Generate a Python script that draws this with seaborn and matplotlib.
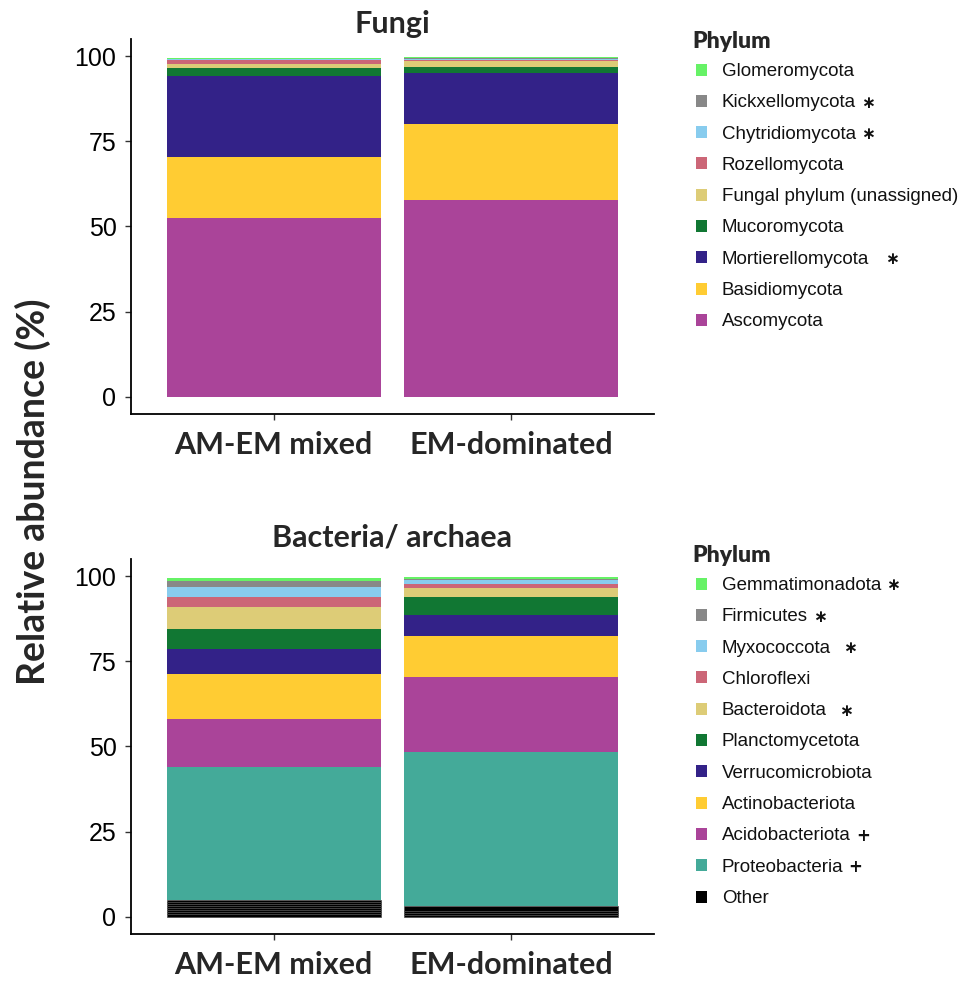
import matplotlib
matplotlib.use("Agg")
import matplotlib.pyplot as plt
from matplotlib.patches import Rectangle
import pandas as pd
import seaborn as sns

# ---------------------------------------------------------------- data
groups = ["AM-EM mixed", "EM-dominated"]

# phyla listed top of the stack first (same order as the legend)
fungi_phyla = ["Glomeromycota", "Kickxellomycota", "Chytridiomycota", "Rozellomycota",
               "Fungal phylum (unassigned)", "Mucoromycota", "Mortierellomycota",
               "Basidiomycota", "Ascomycota"]
fungi_am = [0.3, 0.2, 0.3, 0.9, 1.2, 2.6, 23.7, 17.9, 52.4]
fungi_em = [0.1, 0.3, 0.4, 0.3, 1.7, 1.9, 14.9, 22.3, 57.7]
fungi_marks = ["", "\u2217", "\u2217", "", "", "", "\u2217", "", ""]

bact_phyla = ["Gemmatimonadota", "Firmicutes", "Myxococcota", "Chloroflexi",
              "Bacteroidota", "Planctomycetota", "Verrucomicrobiota",
              "Actinobacteriota", "Acidobacteriota", "Proteobacteria"]
bact_am = [1.1, 1.5, 3.0, 3.0, 6.5, 5.8, 7.3, 13.2, 14.2, 39.0]
bact_em = [0.5, 0.2, 1.2, 1.2, 2.6, 5.4, 6.0, 12.1, 22.1, 45.1]
bact_marks = ["\u2217", "\u2217", "\u2217", "", "\u2217", "", "", "", "+", "+", ""]

# the many low-abundance taxa pooled as "Other" (top of that block first)
other_am = [0.5, 0.8, 0.5, 0.6, 0.4, 0.7, 0.5, 0.9]
other_em = [1.6, 0.5, 0.5, 0.6, 0.0, 0.0, 0.0, 0.0]

colors = ["#66F266", "#888888", "#88CCEE", "#CC6677", "#DDCC77",
          "#117733", "#332288", "#FFCC33", "#AA4499", "#44AA99"]
other_color = "#000000"

# ------------------------------------------------------------- frames
def long_frame(names, am, em):
    rows = []
    for g, vals in zip(groups, [am, em]):
        for n, v in zip(names, vals):
            rows.append({"Type": g, "Phylum": n, "Abundance": v})
    return pd.DataFrame(rows)

other_names = [f"Other {i + 1}" for i in range(len(other_am))]
df_f = long_frame(fungi_phyla, fungi_am, fungi_em)
df_b = long_frame(bact_phyla + other_names, bact_am + other_am, bact_em + other_em)

pal_f = dict(zip(fungi_phyla, colors[:len(fungi_phyla)]))
pal_b = dict(zip(bact_phyla, colors))
pal_b.update({n: other_color for n in other_names})

# -------------------------------------------------------------- style
sns.set_style("ticks")
plt.rcParams["font.family"] = ["Liberation Sans", "DejaVu Sans"]

W, H = 979, 981
fig = plt.figure(figsize=(W / 100, H / 100), dpi=100)

def px_axes(left, top, right, bottom):
    return fig.add_axes([left / W, 1 - bottom / H, (right - left) / W, (bottom - top) / H])

ax_f = px_axes(131, 39, 654, 413.7)
ax_b = px_axes(131, 559, 654, 933.7)

bold_font = ["Lato", "DejaVu Sans"]

for ax, df, order, pal, title, title_base in [
        (ax_f, df_f, fungi_phyla, pal_f, "Fungi", 33),
        (ax_b, df_b, bact_phyla + other_names, pal_b, "Bacteria/ archaea", 547)]:
    sns.histplot(data=df, x="Type", hue="Phylum", weights="Abundance",
                 hue_order=order, palette=pal, multiple="stack",
                 discrete=True, shrink=0.9, alpha=1, linewidth=0,
                 legend=False, ax=ax)
    for p in list(ax.patches):
        if p.get_height() <= 0:
            p.remove()
            continue
        fc = p.get_facecolor()
        if fc[0] + fc[1] + fc[2] < 0.05:
            p.set_edgecolor("#4a4a4a")
            p.set_linewidth(0.5)
    ax.set_xlim(-0.6, 1.6)
    ax.set_ylim(-5, 105)
    ax.set_yticks([0, 25, 50, 75, 100])
    ax.set_xticks(range(len(groups)))
    ax.set_xticklabels(groups, fontsize=22, fontweight="bold", family=bold_font)
    ax.set_xlabel("")
    ax.set_ylabel("")
    ax.tick_params(axis="y", labelsize=18, length=4.5, width=1.0, pad=6,
                   color="#333333", labelcolor="black")
    ax.tick_params(axis="x", length=4.5, width=1.0, pad=8, color="#333333")
    sns.despine(ax=ax)
    for s in ["left", "bottom"]:
        ax.spines[s].set_linewidth(1.3)
        ax.spines[s].set_color("black")
    fig.text((131 + 654) / 2 / W, 1 - title_base / H, title, fontsize=22,
             fontweight="bold", family=bold_font, ha="center", va="baseline")

fig.text(33 / W, 1 - 492 / H, "Relative abundance (%)", rotation=90,
         ha="center", va="center", fontsize=27, fontweight="bold",
         family=["Liberation Sans Narrow", "Lato", "DejaVu Sans"])

# --------------------------------------------------------------- legends
def draw_legend(top_px, names, cols, marks):
    fig.text(692 / W, 1 - top_px / H, "Phylum", fontsize=16.5, fontweight="heavy",
             family=bold_font, ha="left", va="baseline")
    fig.canvas.draw()
    renderer = fig.canvas.get_renderer()
    first = top_px + 21.5
    for i, (n, c, m) in enumerate(zip(names, cols, marks)):
        yc = first + i * 31.3
        fig.add_artist(Rectangle((696 / W, 1 - (yc + 6) / H), 11 / W, 12 / H,
                                 transform=fig.transFigure, facecolor=c,
                                 edgecolor="none"))
        t = fig.text(722 / W, 1 - yc / H, n, fontsize=13.5, ha="left",
                     va="center_baseline", color="#111111")
        if m:
            bb = t.get_window_extent(renderer)
            gap = 16 if n == "Mortierellomycota" else (
                12 if n in ("Myxococcota", "Bacteroidota") else 5)
            fig.text((bb.x1 + gap) / W, 1 - yc / H, m, fontsize=12,
                     fontweight="bold", ha="left", va="center_baseline",
                     family=["DejaVu Sans"], color="#111111")

draw_legend(48, fungi_phyla, [pal_f[n] for n in fungi_phyla], fungi_marks)
draw_legend(562, bact_phyla + ["Other"], colors + [other_color], bact_marks)

fig.savefig("out.png", dpi=100)
